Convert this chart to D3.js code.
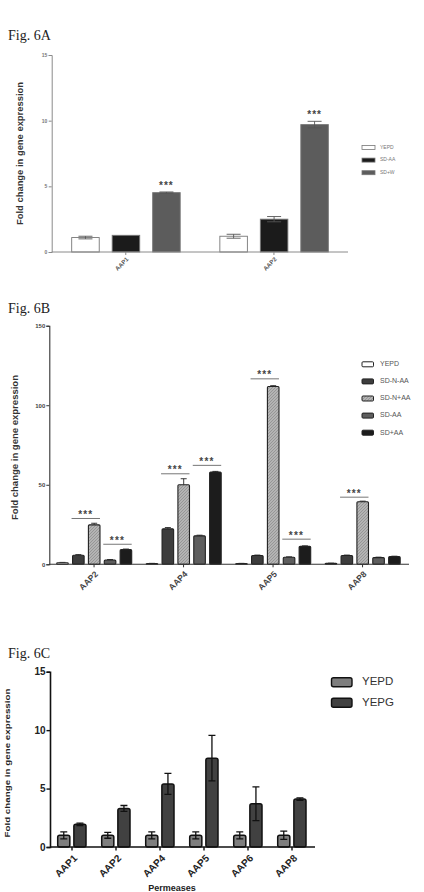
<!DOCTYPE html>
<html><head><meta charset="utf-8">
<script src="https://cdn.jsdelivr.net/npm/d3@7"></script>
<style>
html,body{margin:0;padding:0;background:#fff;}
svg{display:block;}
text{font-family:"Liberation Sans",Arial,sans-serif;}
</style></head>
<body>
<svg id="chart" width="424" height="892"></svg>
<script>
// ---------- Panel A data ----------
const aGroups = ["AAP1", "AAP2"];
const aSeries = ["YEPD", "SD-AA", "SD+W"];
const aValues = [[1.1, 1.27, 4.52], [1.2, 2.5, 9.7]];   // [group][series]
const aErrors = [[0.1, 0.0, 0.05], [0.15, 0.2, 0.25]];
const aTicks = [0, 5, 10, 15];
const aStars = [["AAP1", "SD+W"], ["AAP2", "SD+W"]];

// ---------- Panel B data ----------
const bGroups = ["AAP2", "AAP4", "AAP5", "AAP8"];
const bSeries = ["YEPD", "SD-N-AA", "SD-N+AA", "SD-AA", "SD+AA"];
const bValues = [
  [1.0, 5.7, 24.8, 2.7, 9.2],
  [0.5, 22.3, 50.0, 17.9, 58.0],
  [0.5, 5.5, 111.8, 4.4, 11.3],
  [0.6, 5.5, 39.3, 4.2, 4.8]
];
const bErrors = [
  [0.2, 0.4, 1.0, 0.3, 0.4],
  [0.1, 0.8, 3.8, 0.4, 0.4],
  [0.1, 0.3, 0.5, 0.3, 0.3],
  [0.1, 0.3, 0.4, 0.3, 0.3]
];
const bTicks = [0, 50, 100, 150];
// [group, from series index, to series index, level]
const bSig = [
  ["AAP2", 1, 2, 28.8], ["AAP2", 3, 4, 12.6],
  ["AAP4", 1, 2, 56.9], ["AAP4", 3, 4, 62.2],
  ["AAP5", 1, 2, 116.6], ["AAP5", 3, 4, 15.8],
  ["AAP8", 1, 2, 42.2]
];

// ---------- Panel C data ----------
const cGroups = ["AAP1", "AAP2", "AAP4", "AAP5", "AAP6", "AAP8"];
const cSeries = ["YEPD", "YEPG"];
const cYEPD = [1.0, 1.0, 1.0, 1.0, 1.0, 1.0];
const cYEPDerr = [0.3, 0.25, 0.3, 0.3, 0.3, 0.35];
const cYEPG = [1.94, 3.3, 5.4, 7.6, 3.7, 4.1];
const cYEPGerr = [0.1, 0.25, 0.9, 1.95, 1.45, 0.1];
const cTicks = [0, 5, 10, 15];

const svg = d3.select("#chart");
const defs = svg.append("defs");
const pat = defs.append("pattern").attr("id", "hatch").attr("patternUnits", "userSpaceOnUse")
  .attr("width", 3).attr("height", 3);
pat.append("rect").attr("width", 3).attr("height", 3).attr("fill", "#b4b4b4");
pat.append("path").attr("d", "M0,3 L3,0").attr("stroke", "#8e8e8e").attr("stroke-width", 0.8);

function figLabel(txt, y) {
  svg.append("text").attr("x", 8).attr("y", y).text(txt)
    .style("font-family", "'Liberation Serif','Times New Roman',serif")
    .style("font-size", "14px").attr("fill", "#222");
}
function yTitle(x, yc, size, len, color) {
  svg.append("text").attr("transform", `translate(${x},${yc}) rotate(-90)`)
    .attr("text-anchor", "middle").attr("dominant-baseline", "middle")
    .attr("textLength", len).attr("lengthAdjust", "spacingAndGlyphs")
    .style("font-size", size + "px").style("font-weight", "bold").attr("fill", color)
    .text("Fold change in gene expression");
}

// ================= Panel A =================
(function () {
  figLabel("Fig. 6A", 40);
  const x0 = d3.scaleBand().domain(aGroups).range([51.7, 348]);
  const x1 = d3.scaleBand().domain(aSeries).range([20, 128.5]).paddingInner(0.32);
  const y = d3.scaleLinear().domain([0, 15]).range([252, 55]);
  const fills = { "YEPD": "#ffffff", "SD-AA": "#1b1b1b", "SD+W": "#5c5c5c" };
  const g = svg.append("g");
  const axCol = "#8a8a8a";
  const ya = g.append("g").attr("transform", "translate(51.7,0)")
    .call(d3.axisLeft(y).tickValues(aTicks).tickSize(3).tickPadding(1.5));
  ya.select(".domain").attr("stroke", axCol);
  ya.selectAll(".tick line").attr("stroke", axCol);
  ya.selectAll(".tick text").style("font-size", "5px").style("font-weight", "bold").attr("fill", "#777");
  aGroups.forEach((gr, gi) => {
    aSeries.forEach((s, si) => {
      const v = aValues[gi][si], e = aErrors[gi][si];
      const bx = x0(gr) + x1(s), bw = x1.bandwidth();
      g.append("rect").attr("x", bx).attr("y", y(v)).attr("width", bw).attr("height", y(0) - y(v))
        .attr("fill", fills[s]).attr("stroke", "#777").attr("stroke-width", 0.9);
      if (e > 0) {
        const cx = bx + bw / 2;
        g.append("path").attr("d",
          `M${cx},${y(v - e)}V${y(v + e)}M${cx - 7},${y(v + e)}H${cx + 7}M${cx - 7},${y(v - e)}H${cx + 7}`)
          .attr("stroke", "#555").attr("stroke-width", 0.9).attr("fill", "none");
      }
    });
  });
  const xa = g.append("g").attr("transform", "translate(0,252)")
    .call(d3.axisBottom(x0).tickSize(3).tickSizeOuter(0).tickFormat(""));
  xa.select(".domain").attr("stroke", axCol).attr("d", "M51.7,0H348");
  xa.selectAll(".tick line").attr("stroke", axCol);
  aGroups.forEach(gr => {
    const cx = x0(gr) + x0.bandwidth() / 2;
    g.append("text").attr("transform", `translate(${cx + 2},${258.5}) rotate(-45)`)
      .attr("text-anchor", "end").attr("dominant-baseline", "middle")
      .style("font-size", "6px").style("font-weight", "bold").attr("fill", "#555").text(gr);
  });
  aStars.forEach(([gr, s]) => {
    const gi = aGroups.indexOf(gr), si = aSeries.indexOf(s);
    const cx = x0(gr) + x1(s) + x1.bandwidth() / 2;
    g.append("text").attr("x", cx).attr("y", y(aValues[gi][si] + aErrors[gi][si]) - 3)
      .attr("text-anchor", "middle").style("font-size", "10px").style("font-weight", "bold")
      .attr("letter-spacing", "1px").attr("fill", "#444").text("***");
  });
  yTitle(21, 153.5, 9, 143, "#333");
  aSeries.forEach((s, i) => {
    const ly = 147.5 + i * 12.6;
    g.append("rect").attr("x", 362).attr("y", ly - 2).attr("width", 13).attr("height", 4)
      .attr("fill", fills[s]).attr("stroke", "#777").attr("stroke-width", 0.8);
    g.append("text").attr("x", 380).attr("y", ly).attr("dominant-baseline", "middle")
      .style("font-size", "5px").attr("fill", "#777").text(s);
  });
})();

// ================= Panel B =================
(function () {
  figLabel("Fig. 6B", 313);
  const x0 = d3.scaleBand().domain(bGroups).range([49.3, 407.3]);
  const x1 = d3.scaleBand().domain(bSeries).range([7.4, 82.4]).paddingInner(0.27);
  const y = d3.scaleLinear().domain([0, 150]).range([564.3, 325.7]);
  const fills = { "YEPD": "#ffffff", "SD-N-AA": "#3d3d3d", "SD-N+AA": "url(#hatch)", "SD-AA": "#5e5e5e", "SD+AA": "#1c1c1c" };
  const g = svg.append("g");
  const axCol = "#333";
  const ya = g.append("g").attr("transform", "translate(49.3,0)")
    .call(d3.axisLeft(y).tickValues(bTicks).tickSize(3).tickPadding(1));
  ya.select(".domain").attr("stroke", axCol).attr("stroke-width", 1.1);
  ya.selectAll(".tick line").attr("stroke", axCol);
  ya.selectAll(".tick text").style("font-size", "6px").style("font-weight", "bold").attr("fill", "#444");
  bGroups.forEach((gr, gi) => {
    bSeries.forEach((s, si) => {
      const v = bValues[gi][si], e = bErrors[gi][si];
      const bx = x0(gr) + x1(s), bw = x1.bandwidth();
      const cx = bx + bw / 2;
      g.append("path").attr("d",
        `M${cx},${y(v)}V${y(v + e)}M${cx - 3},${y(v + e)}H${cx + 3}`)
        .attr("stroke", "#222").attr("stroke-width", 0.9).attr("fill", "none");
      g.append("rect").attr("x", bx).attr("y", y(v)).attr("width", bw).attr("height", y(0) - y(v))
        .attr("rx", 1).attr("fill", fills[s]).attr("stroke", "#222").attr("stroke-width", 1.1);
    });
  });
  const xa = g.append("g").attr("transform", "translate(0,564.3)")
    .call(d3.axisBottom(x0).tickSize(3).tickSizeOuter(0).tickFormat(""));
  xa.select(".domain").attr("stroke", axCol).attr("stroke-width", 1.1).attr("d", "M49.3,0H409");
  xa.selectAll(".tick line").attr("stroke", axCol);
  bGroups.forEach(gr => {
    const cx = x0(gr) + x0.bandwidth() / 2;
    g.append("text").attr("transform", `translate(${cx + 3},${573}) rotate(-45)`)
      .attr("text-anchor", "end").attr("dominant-baseline", "middle")
      .style("font-size", "8.5px").style("font-weight", "bold").attr("fill", "#444").text(gr);
  });
  bSig.forEach(([gr, i, j, lv]) => {
    const xa_ = x0(gr) + x1(bSeries[i]) - 1;
    const xb_ = x0(gr) + x1(bSeries[j]) + x1.bandwidth();
    g.append("line").attr("x1", xa_).attr("x2", xb_).attr("y1", y(lv)).attr("y2", y(lv))
      .attr("stroke", "#666").attr("stroke-width", 0.9);
    g.append("text").attr("x", (xa_ + xb_) / 2).attr("y", y(lv) - 0.5)
      .attr("text-anchor", "middle").style("font-size", "10px").style("font-weight", "bold")
      .attr("letter-spacing", "1.2px").attr("fill", "#444").text("***");
  });
  yTitle(16, 447.5, 9, 145, "#333");
  bSeries.forEach((s, i) => {
    const ly = 364.3 + i * 17.1;
    g.append("rect").attr("x", 362).attr("y", ly - 2.5).attr("width", 11.5).attr("height", 5)
      .attr("rx", 1).attr("fill", fills[s]).attr("stroke", "#222").attr("stroke-width", 1);
    g.append("text").attr("x", 380).attr("y", ly).attr("dominant-baseline", "middle")
      .style("font-size", "7px").attr("fill", "#555").text(s);
  });
})();

// ================= Panel C =================
(function () {
  figLabel("Fig. 6C", 658);
  const x0 = d3.scaleBand().domain(cGroups).range([50, 314]);
  const x1 = d3.scaleBand().domain(cSeries).range([7.7, 36]).paddingInner(0.25);
  const y = d3.scaleLinear().domain([0, 15]).range([847, 671.7]);
  const fills = { "YEPD": "#7e7e7e", "YEPG": "#414141" };
  const vals = { "YEPD": cYEPD, "YEPG": cYEPG };
  const errs = { "YEPD": cYEPDerr, "YEPG": cYEPGerr };
  const g = svg.append("g");
  const axCol = "#111";
  const ya = g.append("g").attr("transform", "translate(50,0)")
    .call(d3.axisLeft(y).tickValues(cTicks).tickSize(3.5).tickPadding(1));
  ya.select(".domain").attr("stroke", axCol).attr("stroke-width", 1.6);
  ya.selectAll(".tick line").attr("stroke", axCol).attr("stroke-width", 1.4);
  ya.selectAll(".tick text").style("font-size", "10px").style("font-weight", "bold").attr("fill", "#222");
  cGroups.forEach((gr, gi) => {
    cSeries.forEach(s => {
      const v = vals[s][gi], e = errs[s][gi];
      const bx = x0(gr) + x1(s), bw = x1.bandwidth();
      const cx = bx + bw / 2;
      g.append("rect").attr("x", bx).attr("y", y(v)).attr("width", bw).attr("height", y(0) - y(v))
        .attr("rx", 2).attr("fill", fills[s]).attr("stroke", "#111").attr("stroke-width", 1.5);
      g.append("path").attr("d",
        `M${cx},${y(v - e)}V${y(v + e)}M${cx - 3.5},${y(v + e)}H${cx + 3.5}M${cx - 3.5},${y(v - e)}H${cx + 3.5}`)
        .attr("stroke", "#111").attr("stroke-width", 1.3).attr("fill", "none");
    });
  });
  const xa = g.append("g").attr("transform", "translate(0,847)")
    .call(d3.axisBottom(x0).tickSize(3.5).tickSizeOuter(0).tickFormat(""));
  xa.select(".domain").attr("stroke", axCol).attr("stroke-width", 1.6).attr("d", "M50,0H315");
  xa.selectAll(".tick line").attr("stroke", axCol).attr("stroke-width", 1.4);
  cGroups.forEach(gr => {
    const cx = x0(gr) + x0.bandwidth() / 2;
    g.append("text").attr("transform", `translate(${cx + 4},${857}) rotate(-45)`)
      .attr("text-anchor", "end").attr("dominant-baseline", "middle")
      .style("font-size", "10px").style("font-weight", "bold").attr("fill", "#222").text(gr);
  });
  g.append("text").attr("x", 172).attr("y", 891).attr("text-anchor", "middle")
    .style("font-size", "9px").style("font-weight", "bold").attr("fill", "#222").text("Permeases");
  yTitle(7.5, 763, 8, 149, "#222");
  cSeries.forEach((s, i) => {
    const ly = 682.3 + i * 20.4;
    g.append("rect").attr("x", 331.5).attr("y", ly - 4.5).attr("width", 20.5).attr("height", 9)
      .attr("rx", 2).attr("fill", fills[s]).attr("stroke", "#111").attr("stroke-width", 1.4);
    g.append("text").attr("x", 362).attr("y", ly).attr("dominant-baseline", "middle")
      .style("font-size", "11.5px").attr("fill", "#333").text(s);
  });
})();
</script>
</body></html>
